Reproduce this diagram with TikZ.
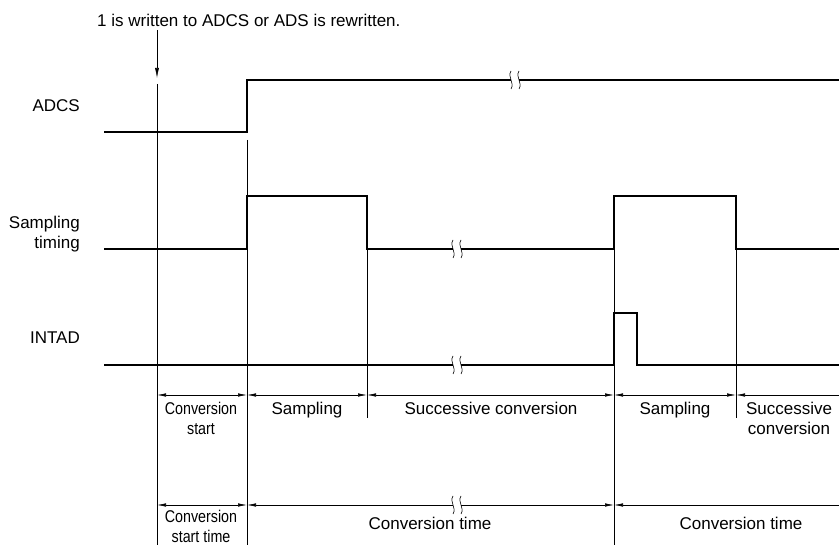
\documentclass[tikz,border=0pt]{standalone}
\usepackage{fontspec}
\setmainfont{Liberation Sans}
\usetikzlibrary{arrows.meta}

\tikzset{
  sig/.style={line width=1.6pt, line join=miter},
  guide/.style={line width=0.6pt},
  dim/.style={line width=0.6pt, {Latex[length=9pt,width=3.4pt]}-{Latex[length=9pt,width=3.4pt]}},
  dimleft/.style={line width=0.6pt, {Latex[length=9pt,width=3.4pt]}-},
  lbl/.style={font=\fontsize{17}{20}\selectfont, align=center, inner sep=0pt},
  signame/.style={font=\fontsize{17}{20}\selectfont, align=right, anchor=east, inner sep=0pt},
  brk/.pic={
    \fill[white] (-4,-2.6) rectangle (4,2.6);
    \draw[line width=0.6pt] (-4,-9) .. controls (-8,-3) and (0,3) .. (-4,9);
    \draw[line width=0.6pt] (4,-9) .. controls (0,-3) and (8,3) .. (4,9);
  }
}

\begin{document}
\begin{tikzpicture}[x=1pt, y=-1pt]
  \useasboundingbox (0,0) rectangle (839,545);

  % signal names
  \node[signame] (nadcs) at (80,106) {ADCS};
  \node[signame] (nsamp) at (80,234) {Sampling\\timing};
  \node[signame] (nintad) at (80,338) {INTAD};

  % trigger note and arrow
  \node[lbl, anchor=base west] (note) at (97,27) {1 is written to ADCS or ADS is rewritten.};
  \coordinate (trig) at (157,30);
  \coordinate (trigend) at (157,78);
  \draw[guide, -{Latex[length=10pt,width=4pt]}] (trig) -- (trigend);

  % guide lines
  \draw[guide] (157,84) -- (157,545);
  \draw[guide] (247,140) -- (247,545);
  \draw[guide] (367,249) -- (367,418);
  \draw[guide] (614,249) -- (614,545);
  \draw[guide] (736,249) -- (736,418);

  % waveforms
  \draw[sig] (104,132) -- (247,132) -- (247,80) -- (839,80);
  \pic at (515,80) {brk};
  \draw[sig] (104,249) -- (247,249) -- (247,196) -- (367,196) -- (367,249)
    -- (614,249) -- (614,196) -- (736,196) -- (736,249) -- (839,249);
  \pic at (457,249) {brk};
  \draw[sig] (104,365) -- (614,365) -- (614,313) -- (637,313) -- (637,365) -- (839,365);
  \pic at (457,365) {brk};

  % first row of intervals
  \coordinate (a0) at (157,395);
  \coordinate (a1) at (247,395);
  \coordinate (a2) at (367,395);
  \coordinate (a3) at (614,395);
  \coordinate (a4) at (736,395);
  \coordinate (a5) at (839,395);
  \draw[dim] (a0) -- (a1);
  \draw[dim] (a1) -- (a2);
  \draw[dim] (a2) -- (a3);
  \draw[dim] (a3) -- (a4);
  \draw[dimleft] (a4) -- (a5);
  \node[lbl, anchor=north] (cs) at (201,402) {\scalebox{0.84}[1]{Conversion}\\\scalebox{0.84}[1]{start}};
  \node[lbl, anchor=north] (s1) at (307,402) {Sampling};
  \node[lbl, anchor=north] (sc1) at (491,402) {Successive conversion};
  \node[lbl, anchor=north] (s2) at (675,402) {Sampling};
  \node[lbl, anchor=north] (sc2) at (789,402) {Successive\\conversion};

  % second row of intervals
  \coordinate (b0) at (157,505);
  \coordinate (b1) at (247,505);
  \coordinate (b2) at (614,505);
  \coordinate (b3) at (839,505);
  \draw[dim] (b0) -- (b1);
  \draw[dim] (b1) -- (b2);
  \pic at (457,505) {brk};
  \draw[dimleft] (b2) -- (b3);
  \node[lbl, anchor=north] (cst) at (201,510) {\scalebox{0.84}[1]{Conversion}\\\scalebox{0.84}[1]{start time}};
  \node[lbl, anchor=north] (ct1) at (430,517) {Conversion time};
  \node[lbl, anchor=north] (ct2) at (741,517) {Conversion time};
\end{tikzpicture}
\end{document}
